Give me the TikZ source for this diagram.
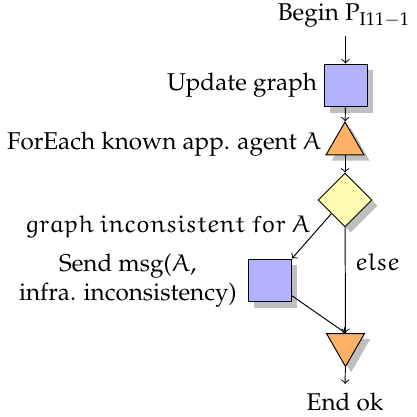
\documentclass[tikz,border=0pt]{standalone}
\usepackage[T1]{fontenc}
\usepackage{mathpazo}
\DeclareFontFamily{U}{eurx}{\skewchar\font'177}
\DeclareFontShape{U}{eurx}{m}{n}{<-6>eurm5<6-8>eurm7<8->eurm10}{}
\DeclareSymbolFont{letters}{U}{eurx}{m}{n}
\usetikzlibrary{positioning, shapes.geometric, shadows}

\begin{document}
\begin{tikzpicture}[
    x=0.412pt, y=-0.412pt,
    act/.style={rectangle, draw, fill=blue!30, minimum size=17.7pt, inner sep=0pt, drop shadow},
    iter/.style={regular polygon, regular polygon sides=3, draw, fill=orange!60, minimum size=18.1pt, inner sep=0pt, drop shadow},
    iterend/.style={iter, shape border rotate=180},
    cond/.style={diamond, draw, fill=yellow!30, minimum width=22.2pt, minimum height=22.2pt, inner sep=0pt, drop shadow},
    lbl/.style={inner sep=1pt, align=center},
    arrow/.style={->},
]
\useasboundingbox (0,0) rectangle (417,416);

% Flow column
\node (begin) at (344,16) {Begin P$_{\mathrm{I11-1}}$};
\node[act] (upd) at (345.5,85.5) {};
\node[iter] (fe) at (345,144) {};
\node[cond] (dec) at (345,200) {};
\node[act] (snd) at (270,280.5) {};
\node[iterend] (fin) at (345.5,344.5) {};
\node (eok) at (345,401.5) {End ok};

% Labels
\node[lbl, left=1.5pt of upd] (updl) {Update graph};
\node[lbl, left=3pt of fe] (fel) {ForEach known app. agent $A$};
\node[lbl, left=3.5pt of snd] (sndl) {Send msg($A$,\\infra. inconsistency)};

% Arrows
\draw[arrow] (begin.south -| upd.north) -- (upd);
\draw[arrow] (upd) -- (fe);
\draw[arrow] (fe) -- (dec);
\draw[arrow] (dec.south west) -- node[lbl, above left, pos=0.45, yshift=-2.5pt] {$graph\ inconsistent\ for\ A$} (snd.north east);
\draw[arrow] (dec) -- node[lbl, right=3pt, pos=0.33] {$else$} (fin);
\draw[arrow] (snd) -- (fin.north);
\draw[arrow] (fin) -- (eok);

\end{tikzpicture}
\end{document}
